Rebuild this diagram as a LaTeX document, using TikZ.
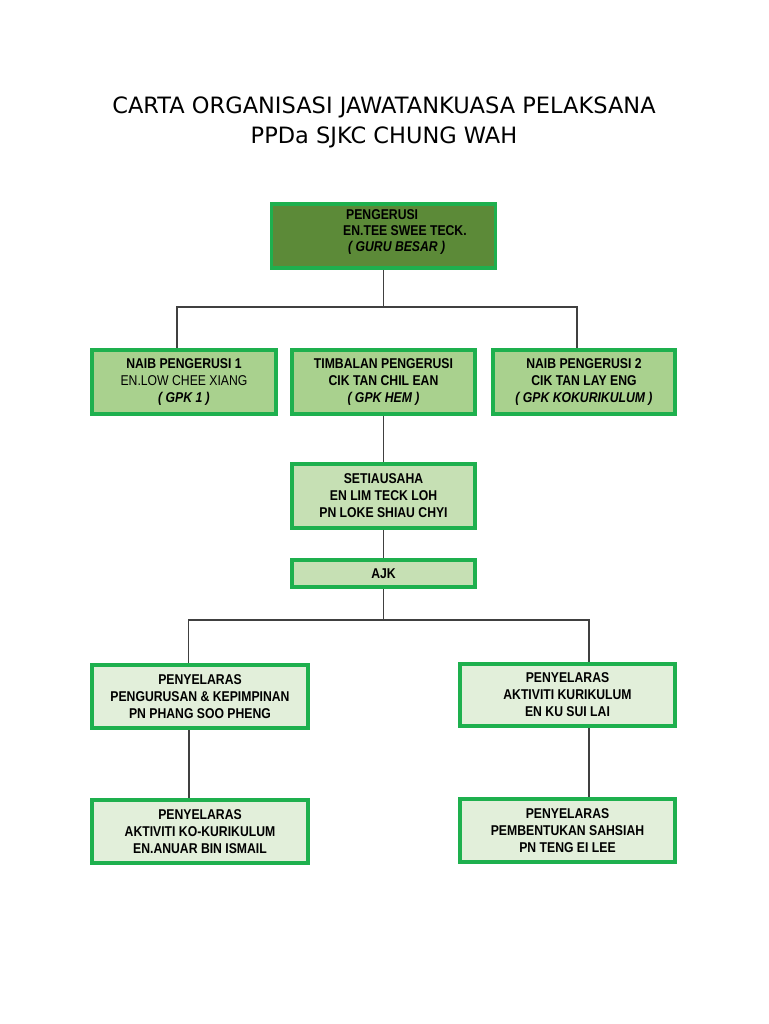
\documentclass[tikz,border=0pt]{standalone}
\usepackage{fontspec}
\setmainfont{DejaVu Sans}
\newfontfamily\boxfont[FakeStretch=0.86]{Liberation Sans}
\definecolor{bordergreen}{HTML}{1EB04E}
\definecolor{topfill}{HTML}{5C8A38}
\definecolor{rowfill}{HTML}{A9D18E}
\definecolor{midfill}{HTML}{C6E0B4}
\definecolor{lowfill}{HTML}{E2EFDA}
\definecolor{linegray}{HTML}{404040}
\begin{document}
\begin{tikzpicture}[x=1pt,y=-1pt,
  boxtext/.style={font=\boxfont\bfseries\fontsize{14.2}{17}\selectfont},
  box/.style={boxtext,draw=bordergreen,line width=3.6pt,inner sep=0pt,align=center},
  conn/.style={draw=linegray,line width=1.3pt}]
\useasboundingbox[fill=white] (0,0) rectangle (768,1024);
% title
\node[font=\fontsize{22.5}{30}\selectfont,align=center] (title) at (384,122)
  {CARTA ORGANISASI JAWATANKUASA PELAKSANA\\PPDa SJKC CHUNG WAH};
% boxes
\node[box,fill=topfill,minimum width=224pt,minimum height=64.5pt] (top) at (383.5,236) {};
\node[boxtext,font=\boxfont\bfseries\fontsize{14.2}{16}\selectfont,align=left,anchor=west,inner sep=0pt] (toptext) at (343,232)
  {\hspace*{3pt}PENGERUSI\\EN.TEE SWEE TECK.\\\hspace*{5pt}\textit{( GURU BESAR )}};
\node[box,fill=rowfill,minimum width=184.5pt,minimum height=64.5pt] (n1) at (184,382)
  {NAIB PENGERUSI 1\\\mdseries EN.LOW CHEE XIANG\\\textit{( GPK 1 )}};
\node[box,fill=rowfill,minimum width=183.5pt,minimum height=64.5pt] (n2) at (383.5,382)
  {TIMBALAN PENGERUSI\\CIK TAN CHIL EAN\\\textit{( GPK HEM )}};
\node[box,fill=rowfill,minimum width=182.5pt,minimum height=64.5pt] (n3) at (584,382)
  {NAIB PENGERUSI 2\\CIK TAN LAY ENG\\\textit{( GPK KOKURIKULUM )}};
\node[box,fill=midfill,minimum width=183.5pt,minimum height=64.5pt] (sec) at (383.5,496)
  {SETIAUSAHA\\EN LIM TECK LOH\\PN LOKE SHIAU CHYI};
\node[box,fill=midfill,minimum width=183.5pt,minimum height=27.5pt] (ajk) at (383.5,573.5) {AJK};
\node[box,fill=lowfill,minimum width=216.5pt,minimum height=63.5pt] (pl) at (200,696.5)
  {PENYELARAS\\PENGURUSAN \& KEPIMPINAN\\PN PHANG SOO PHENG};
\node[box,fill=lowfill,minimum width=215.5pt,minimum height=62.5pt] (pr) at (567.5,695)
  {PENYELARAS\\AKTIVITI KURIKULUM\\EN KU SUI LAI};
\node[box,fill=lowfill,minimum width=216.5pt,minimum height=63.5pt] (bl) at (200,831.5)
  {PENYELARAS\\AKTIVITI KO-KURIKULUM\\EN.ANUAR BIN ISMAIL};
\node[box,fill=lowfill,minimum width=215.5pt,minimum height=63.5pt] (br) at (567.5,830.5)
  {PENYELARAS\\PEMBENTUKAN SAHSIAH\\PN TENG EI LEE};
% junctions
\coordinate (j1) at (383.5,307);
\coordinate (j2) at (383.5,620);
% connectors
\draw[conn] (top.south) -- (j1);
\draw[conn] ([xshift=-7pt]n1.north) |- (j1) -| ([xshift=-7pt]n3.north);
\draw[conn] (n2.south) -- (sec.north);
\draw[conn] (sec.south) -- (ajk.north);
\draw[conn] (ajk.south) -- (j2);
\draw[conn] ([xshift=-11.5pt]pl.north) |- (j2) -| ([xshift=21.5pt]pr.north);
\draw[conn] ([xshift=-11pt]pl.south) -- ([xshift=-11pt]bl.north);
\draw[conn] ([xshift=21.5pt]pr.south) -- ([xshift=21.5pt]br.north);
\end{tikzpicture}
\end{document}
